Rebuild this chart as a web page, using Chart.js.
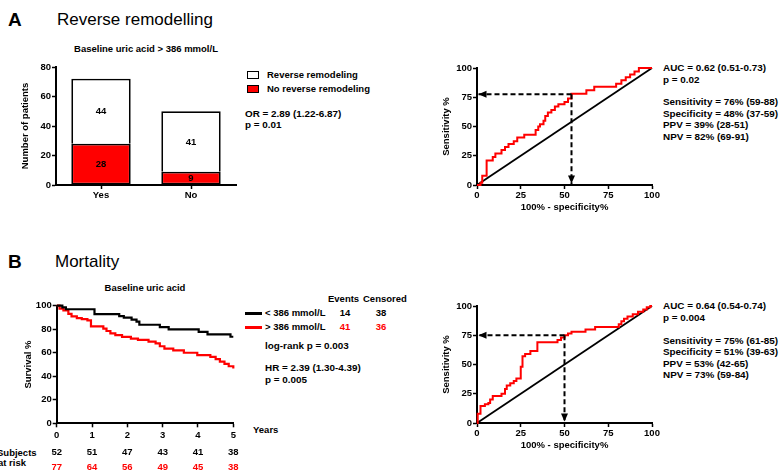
<!DOCTYPE html>
<html>
<head>
<meta charset="utf-8">
<script src="https://cdn.jsdelivr.net/npm/chart.js@4"></script>
<style>
body { margin: 0; background: #fff; }
#fig { position: relative; width: 780px; height: 471px; overflow: hidden;
       font-family: "Liberation Sans", Arial, sans-serif; font-weight: bold; font-size: 9.5px; color: #000; }
#fig canvas { position: absolute; }
.t { position: absolute; white-space: nowrap; line-height: 1; transform: translateY(-50%); }
.c { transform: translate(-50%, -50%); }
.n { font-size: 9.9px; }
.m { font-size: 9.9px; }
.red { color: #ff0000; }
.big { font-size: 17px; font-weight: normal; }
.letter { font-size: 19px; font-weight: bold; }
.box { position: absolute; border: 1.5px solid #000; box-sizing: border-box; width: 12px; height: 8px; }
.seg { position: absolute; height: 3px; width: 17px; }
</style>
</head>
<body>
<div id="fig">
  <!-- panel A -->
  <div class="t letter" style="left:8px;top:19px">A</div>
  <div class="t big" style="left:57px;top:19px">Reverse remodelling</div>
  <div class="t c" style="left:146px;top:49px">Baseline uric acid &gt; 386 mmol/L</div>
  <div class="box" style="left:247px;top:71px;background:#fff"></div>
  <div class="t" style="left:267px;top:75px">Reverse remodeling</div>
  <div class="box" style="left:247px;top:85px;background:#ff0000"></div>
  <div class="t" style="left:267px;top:89px">No reverse remodeling</div>
  <div class="t m" style="left:245px;top:114px">OR = 2.89 (1.22-6.87)</div>
  <div class="t m" style="left:245px;top:125px">p = 0.01</div>

  <div class="t n" style="left:663px;top:68px">AUC = 0.62 (0.51-0.73)</div>
  <div class="t n" style="left:663px;top:80px">p = 0.02</div>
  <div class="t n" style="left:663px;top:102px">Sensitivity = 76% (59-88)</div>
  <div class="t n" style="left:663px;top:113.5px">Specificity = 48% (37-59)</div>
  <div class="t n" style="left:663px;top:125px">PPV = 39% (28-51)</div>
  <div class="t n" style="left:663px;top:136.5px">NPV = 82% (69-91)</div>

  <!-- panel B -->
  <div class="t letter" style="left:8px;top:261px">B</div>
  <div class="t big" style="left:55px;top:261px">Mortality</div>
  <div class="t c" style="left:145px;top:288px">Baseline uric acid</div>
  <div class="t" style="left:328px;top:299px">Events</div>
  <div class="t" style="left:363px;top:299px">Censored</div>
  <div class="seg" style="left:245px;top:311.5px;background:#000"></div>
  <div class="t" style="left:265px;top:313px">&lt; 386 mmol/L</div>
  <div class="t c" style="left:345px;top:313px">14</div>
  <div class="t c" style="left:381px;top:313px">38</div>
  <div class="seg" style="left:245px;top:325.5px;background:#ff0000"></div>
  <div class="t" style="left:265px;top:327px">&gt; 386 mmol/L</div>
  <div class="t c red" style="left:345px;top:327px">41</div>
  <div class="t c red" style="left:381px;top:327px">36</div>
  <div class="t m" style="left:265px;top:346px">log-rank p = 0.003</div>
  <div class="t m" style="left:265px;top:368px">HR = 2.39 (1.30-4.39)</div>
  <div class="t m" style="left:265px;top:379.5px">p = 0.005</div>
  <div class="t" style="left:253px;top:430px">Years</div>
  <div class="t" style="left:-3px;top:452.5px">Subjects</div>
  <div class="t" style="left:-2px;top:463px">at risk</div>

  <div class="t n" style="left:663px;top:306px">AUC = 0.64 (0.54-0.74)</div>
  <div class="t n" style="left:663px;top:318px">p = 0.004</div>
  <div class="t n" style="left:663px;top:340.5px">Sensitivity = 75% (61-85)</div>
  <div class="t n" style="left:663px;top:352px">Specificity = 51% (39-63)</div>
  <div class="t n" style="left:663px;top:363.5px">PPV = 53% (42-65)</div>
  <div class="t n" style="left:663px;top:375px">NPV = 73% (59-84)</div>

  <canvas id="barA" width="240" height="155" style="left:0;top:55px"></canvas>
  <canvas id="rocA" width="240" height="165" style="left:430px;top:55px"></canvas>
  <canvas id="kmB" width="240" height="176" style="left:0;top:295px"></canvas>
  <canvas id="rocB" width="240" height="165" style="left:430px;top:293px"></canvas>
</div>

<script>
// ---- data ----
const groupLabels = ['Yes', 'No'];
const noReverseCounts = [28, 9];
const reverseCounts = [44, 41];
const barYTicks = [0, 20, 40, 60, 80];

const rocTicks = [0, 25, 50, 75, 100];
const diagonal = [0, 100];

const rocAFpr = [0, 2, 3, 5.5, 9, 10.5, 14, 16, 18, 21, 23, 27, 33.5, 35, 36, 38, 39, 40.5, 42.5, 44.5, 46.5, 50, 52, 54, 62.5, 67, 79.5, 82.5, 85, 87.5, 90, 92.5, 100];
const rocATpr = [0, 2, 8, 21, 24, 27, 30, 32.5, 35, 37.5, 40.5, 43, 47, 50, 52, 55, 59, 62, 64, 67, 69, 71, 74, 78, 81, 84, 86.5, 89.5, 92, 94.5, 97, 100, 100];
const rocACut = [54, 77.5];

const rocBFpr = [0, 0.4, 2, 4.5, 6.5, 7.5, 9, 14, 16, 17, 19, 21, 22.5, 25, 26, 27.5, 30.5, 34.5, 46, 48, 50, 52, 54, 62, 67.5, 81, 82.5, 84, 86, 89, 92, 95, 97, 99, 100];
const rocBTpr = [0, 8, 14.5, 16, 17, 20, 23, 25, 29, 32, 34, 36, 38, 48, 57, 59, 61.5, 69, 71, 73, 75, 76.5, 78, 80, 82, 84.5, 87, 89, 91, 93, 95, 97, 99, 100, 100];
const rocBCut = [50, 75];

const kmYears = [0, 1, 2, 3, 4, 5];
const kmYTicks = [0, 20, 40, 60, 80, 100];
const lowTime = [0, 0.16, 0.26, 1.07, 1.77, 1.9, 2.12, 2.26, 2.34, 2.92, 3.17, 4.02, 4.27, 4.92, 5.0];
const lowSurv = [100, 98.6, 97, 92.9, 91.2, 89.8, 88.2, 86.4, 83.8, 81.8, 79.9, 77.7, 75.6, 73.6, 73.6];
const highTime = [0, 0.08, 0.19, 0.33, 0.42, 0.57, 0.71, 0.87, 0.97, 1.32, 1.41, 1.52, 1.66, 1.85, 2.1, 2.3, 2.6, 2.8, 2.92, 3.05, 3.3, 3.6, 3.98, 4.35, 4.5, 4.62, 4.75, 4.87, 5.0];
const highSurv = [100, 97.5, 96, 93, 91, 89.5, 88.5, 87.5, 82.5, 80.5, 78.5, 76.5, 75, 73.5, 72, 71, 69.5, 68, 65.5, 63.5, 62, 60, 58, 56.5, 54.5, 52.5, 50.5, 48.5, 46.5];
const atRiskLow = [52, 51, 47, 43, 41, 38];
const atRiskHigh = [77, 64, 56, 49, 45, 38];

const RED = '#ff0000';

Chart.defaults.font.family = '"Liberation Sans", Arial, sans-serif';
Chart.defaults.font.size = 9.5;
Chart.defaults.font.weight = 'bold';
Chart.defaults.color = '#000';

const xy = (xs, ys) => xs.map((x, i) => ({ x: x, y: ys[i] }));

// prism-like axis: thick line, short outside ticks, no grid
function axis(extra) {
  return Object.assign({
    grid: { drawOnChartArea: false, tickLength: 4, tickColor: '#000', tickWidth: 1.5 },
    border: { color: '#000', width: 2 },
    ticks: { padding: 1 }
  }, extra);
}
const fixTicks = (vals) => (s) => { s.ticks = vals.map(v => ({ value: v })); };

// numbers centred inside each stacked segment
const segLabels = {
  id: 'segLabels',
  afterDatasetsDraw(chart) {
    const ctx = chart.ctx;
    ctx.save();
    ctx.font = 'bold 9.5px "Liberation Sans", Arial';
    ctx.fillStyle = '#000';
    ctx.textAlign = 'center';
    ctx.textBaseline = 'middle';
    chart.data.datasets.forEach((ds, i) => {
      chart.getDatasetMeta(i).data.forEach((bar, j) => {
        const p = bar.getProps(['x', 'y', 'base'], true);
        ctx.fillText(ds.data[j], p.x, (p.y + p.base) / 2 + 0.5);
      });
    });
    ctx.restore();
  }
};

// arrowheads at the ends of the cut-off lines
const cutoffArrows = {
  id: 'cutoff',
  afterDatasetsDraw(chart, args, opts) {
    if (!opts || opts.x == null) return;
    const xs = chart.scales.x, ys = chart.scales.y, ctx = chart.ctx;
    const px = xs.getPixelForValue(opts.x), py = ys.getPixelForValue(opts.y);
    const x0 = xs.getPixelForValue(0) + 1.5, y0 = ys.getPixelForValue(0) - 1.5;
    ctx.save();
    ctx.fillStyle = '#000';
    ctx.beginPath();
    ctx.moveTo(x0, py); ctx.lineTo(x0 + 8, py - 3.5); ctx.lineTo(x0 + 8, py + 3.5); ctx.closePath();
    ctx.moveTo(px, y0); ctx.lineTo(px - 3.5, y0 - 8); ctx.lineTo(px + 3.5, y0 - 8); ctx.closePath();
    ctx.fill();
    ctx.restore();
  }
};

// numbers at risk under the year ticks
const riskTable = {
  id: 'riskTable',
  afterDraw(chart) {
    const ctx = chart.ctx, xs = chart.scales.x, b = chart.chartArea.bottom;
    ctx.save();
    ctx.font = 'bold 9.5px "Liberation Sans", Arial';
    ctx.textAlign = 'center';
    ctx.textBaseline = 'middle';
    kmYears.forEach((yr, i) => {
      const x = xs.getPixelForValue(yr);
      ctx.fillStyle = '#000';
      ctx.fillText(atRiskLow[i], x, b + 29.5);
      ctx.fillStyle = RED;
      ctx.fillText(atRiskHigh[i], x, b + 44.5);
    });
    ctx.restore();
  }
};

// ---- A: stacked bars ----
new Chart(document.getElementById('barA'), {
  type: 'bar',
  data: {
    labels: groupLabels,
    datasets: [
      { label: 'No reverse remodeling', data: noReverseCounts, backgroundColor: RED,
        borderColor: '#000', borderWidth: 1.8, borderSkipped: false, categoryPercentage: 1, barPercentage: 0.66 },
      { label: 'Reverse remodeling', data: reverseCounts, backgroundColor: '#fff',
        borderColor: '#000', borderWidth: 1.8, borderSkipped: 'start', categoryPercentage: 1, barPercentage: 0.66 }
    ]
  },
  options: {
    responsive: false, animation: false,
    layout: { padding: { top: 12, right: 4, left: 0, bottom: 0 } },
    plugins: { legend: { display: false }, tooltip: { enabled: false } },
    scales: {
      x: axis({ stacked: true,
        grid: { offset: false, drawOnChartArea: false, tickLength: 4, tickColor: '#000', tickWidth: 1.5 },
        afterFit: s => { s.height = 25; } }),
      y: axis({ stacked: true, min: 0, max: 80, afterBuildTicks: fixTicks(barYTicks),
        title: { display: true, text: 'Number of patients', padding: { top: 19.3, bottom: 0 } },
        afterFit: s => { s.width = 56; } })
    }
  },
  plugins: [segLabels]
});

// ---- ROC curves ----
function rocChart(id, fpr, tpr, cut) {
  return new Chart(document.getElementById(id), {
    type: 'line',
    data: {
      datasets: [
        { data: [{ x: cut[0], y: cut[1] }, { x: 0, y: cut[1] }], borderColor: '#000', borderWidth: 2, borderDash: [5, 3] },
        { data: [{ x: cut[0], y: cut[1] }, { x: cut[0], y: 0 }], borderColor: '#000', borderWidth: 2, borderDash: [5, 3] },
        { data: xy(fpr, tpr), borderColor: RED, borderWidth: 2, stepped: 'before' },
        { data: xy(diagonal, diagonal), borderColor: '#000', borderWidth: 1.8 }
      ]
    },
    options: {
      responsive: false, animation: false,
      layout: { padding: { top: 13, right: 18, left: 0, bottom: 0 } },
      elements: { point: { radius: 0 } },
      datasets: { line: { clip: false } },
      plugins: { legend: { display: false }, tooltip: { enabled: false }, cutoff: { x: cut[0], y: cut[1] } },
      scales: {
        x: axis({ type: 'linear', min: 0, max: 100, afterBuildTicks: fixTicks(rocTicks),
          title: { display: true, text: '100% - specificity%', padding: { top: 0, bottom: 6.8 } },
          afterFit: s => { s.height = 35; } }),
        y: axis({ min: 0, max: 100, afterBuildTicks: fixTicks(rocTicks),
          title: { display: true, text: 'Sensitivity %', padding: { top: 11, bottom: 0 } },
          afterFit: s => { s.width = 47; } })
      }
    },
    plugins: [cutoffArrows]
  });
}
rocChart('rocA', rocAFpr, rocATpr, rocACut);
rocChart('rocB', rocBFpr, rocBTpr, rocBCut);

// ---- B: Kaplan-Meier ----
new Chart(document.getElementById('kmB'), {
  type: 'line',
  data: {
    datasets: [
      { label: '< 386 mmol/L', data: xy(lowTime, lowSurv), borderColor: '#000', borderWidth: 2.2, stepped: 'before' },
      { label: '> 386 mmol/L', data: xy(highTime, highSurv), borderColor: RED, borderWidth: 2.2, stepped: 'before' }
    ]
  },
  options: {
    responsive: false, animation: false,
    layout: { padding: { top: 10.7, right: 6.7, left: 0, bottom: 0 } },
    elements: { point: { radius: 0 } },
    datasets: { line: { clip: false } },
    plugins: { legend: { display: false }, tooltip: { enabled: false } },
    scales: {
      x: axis({ type: 'linear', min: 0, max: 5, afterBuildTicks: fixTicks(kmYears),
        ticks: { padding: 2.5 },
        afterFit: s => { s.height = 47.7; } }),
      y: axis({ min: 0, max: 100, afterBuildTicks: fixTicks(kmYTicks),
        title: { display: true, text: 'Survival %', padding: { top: 22.3, bottom: 0 } },
        afterFit: s => { s.width = 56.7; } })
    }
  },
  plugins: [riskTable]
});
</script>
</body>
</html>
